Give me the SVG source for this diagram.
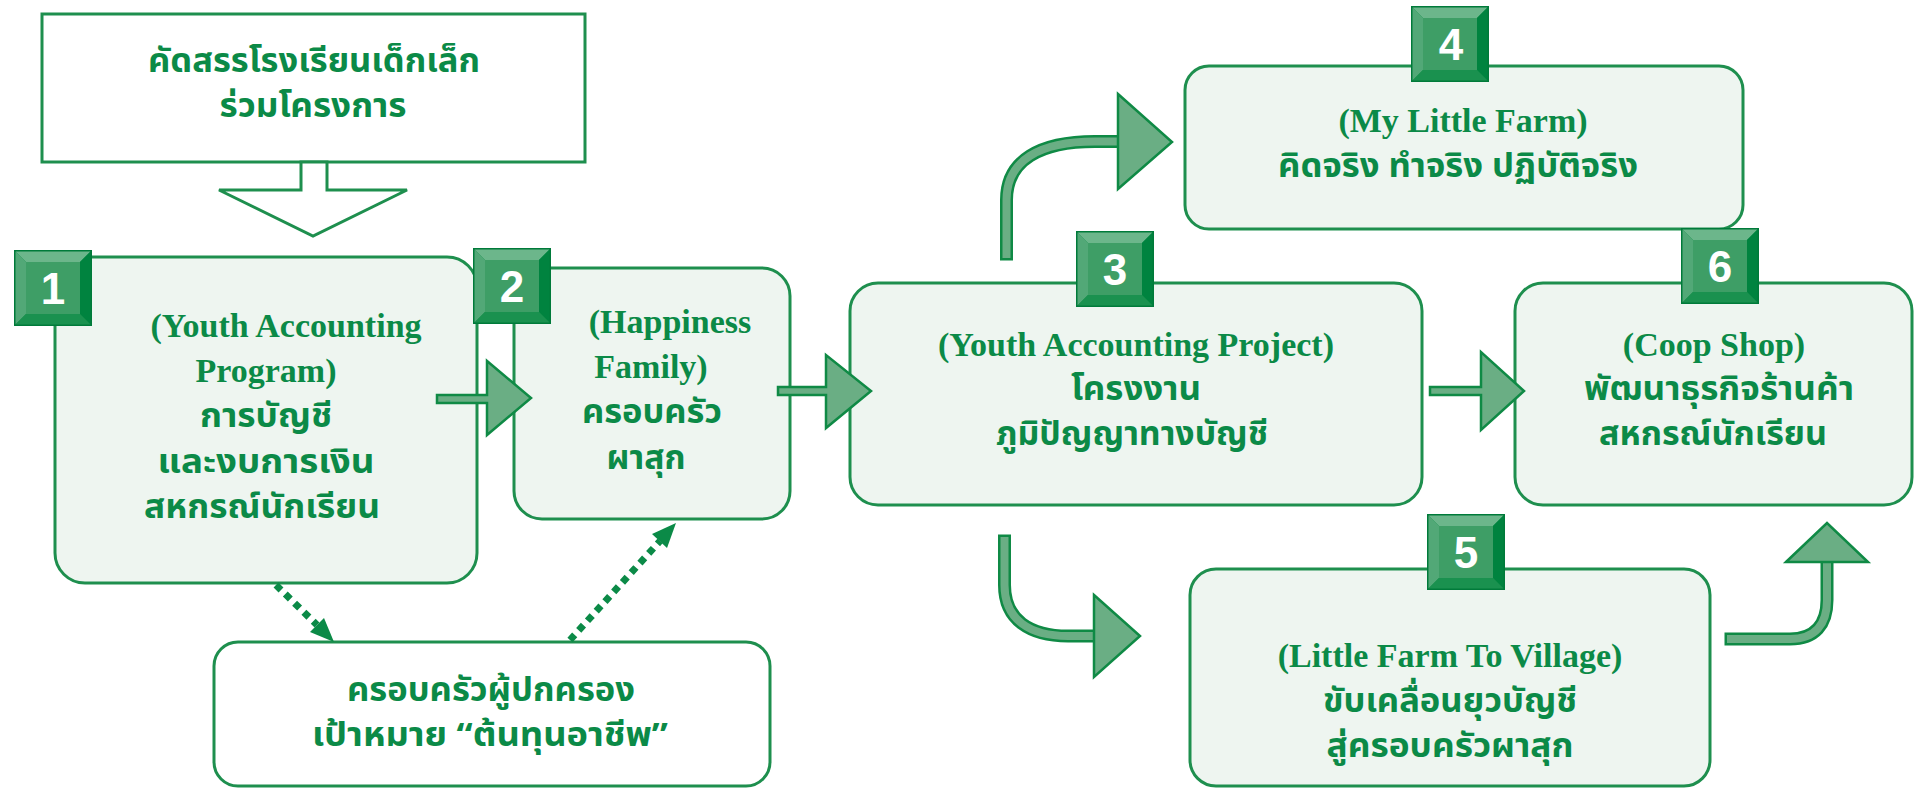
<svg xmlns="http://www.w3.org/2000/svg" xmlns:xlink="http://www.w3.org/1999/xlink" width="1918" height="788" viewBox="0 0 1918 788">
<style>
.box{fill:#eef5f0;stroke:#1e8f4e;stroke-width:3}
.wbox{fill:#ffffff;stroke:#1e8f4e;stroke-width:3}
.en{font-family:"Liberation Serif","Times New Roman",serif;font-weight:bold;font-size:34px;fill:#0b8a47;text-anchor:middle}
.th{font-family:"Noto Sans Thai","Noto Sans Thai Looped","Loma","Garuda","Tlwg Typo","Noto Sans","DejaVu Sans",sans-serif;font-weight:bold;font-size:33px;fill:#0b8a47;text-anchor:middle}
.num{font-family:"Liberation Sans",Arial,sans-serif;font-weight:bold;font-size:44px;fill:#ffffff;text-anchor:middle}
.blk{fill:#6aae84;stroke:#0f8a45;stroke-width:2.5;stroke-linejoin:miter}
.shaftO{fill:none;stroke:#0f8a45;stroke-width:13}
.shaftI{fill:none;stroke:#6aae84;stroke-width:8}
.dot{fill:none;stroke:#0b8a47;stroke-width:7;stroke-dasharray:7 6}
.dhead{fill:#0b8a47}
</style>
<defs>
<g id="badge">
<rect x="0" y="0" width="78" height="76" fill="#0a8a45"/>
<polygon points="0,0 78,0 66,12 12,12" fill="#6cb68b"/>
<polygon points="0,0 12,12 12,64 0,76" fill="#52a877"/>
<polygon points="78,0 78,76 66,64 66,12" fill="#00833f"/>
<polygon points="0,76 12,64 66,64 78,76" fill="#1a914f"/>
<rect x="12" y="12" width="54" height="52" fill="#3e9e66"/>
<rect x="0.75" y="0.75" width="76.5" height="74.5" fill="none" stroke="#007a3a" stroke-width="1.5"/>
</g>
</defs>
<rect x="0" y="0" width="1918" height="788" fill="#ffffff"/>

<g id="node-start">
<rect class="wbox" x="42" y="14" width="543" height="148"/>
<polygon class="wbox" points="301,162 301,190 219,190 313,236 407,190 327,190 327,162"/>
<text class="th" x="314" y="72" textLength="332" lengthAdjust="spacingAndGlyphs">คัดสรรโรงเรียนเด็กเล็ก</text>
<text class="th" x="313" y="117" textLength="187" lengthAdjust="spacingAndGlyphs">ร่วมโครงการ</text>
</g>

<g id="node-1">
<rect class="box" x="55" y="257" width="422" height="326" rx="30"/>
<text class="en" x="286" y="337">(Youth Accounting</text>
<text class="en" x="266" y="382">Program)</text>
<text class="th" x="266" y="427" textLength="132" lengthAdjust="spacingAndGlyphs">การบัญชี</text>
<text class="th" x="266" y="473" textLength="217" lengthAdjust="spacingAndGlyphs">และงบการเงิน</text>
<text class="th" x="262" y="518" textLength="236" lengthAdjust="spacingAndGlyphs">สหกรณ์นักเรียน</text>
<use xlink:href="#badge" x="14" y="250"/>
<text class="num" x="53" y="304">1</text>
</g>

<g id="node-2">
<rect class="box" x="514" y="268" width="276" height="251" rx="28"/>
<text class="en" x="670" y="333">(Happiness</text>
<text class="en" x="651" y="378">Family)</text>
<text class="th" x="652" y="423" textLength="140" lengthAdjust="spacingAndGlyphs">ครอบครัว</text>
<text class="th" x="646" y="469" textLength="79" lengthAdjust="spacingAndGlyphs">ผาสุก</text>
<use xlink:href="#badge" x="473" y="248"/>
<text class="num" x="512" y="302">2</text>
</g>

<g id="node-3">
<rect class="box" x="850" y="283" width="572" height="222" rx="28"/>
<text class="en" x="1136" y="356">(Youth Accounting Project)</text>
<text class="th" x="1136" y="400" textLength="130" lengthAdjust="spacingAndGlyphs">โครงงาน</text>
<text class="th" x="1132" y="445" textLength="272" lengthAdjust="spacingAndGlyphs">ภูมิปัญญาทางบัญชี</text>
<use xlink:href="#badge" x="1076" y="231"/>
<text class="num" x="1115" y="285">3</text>
</g>

<g id="node-4">
<rect class="box" x="1185" y="66" width="558" height="163" rx="24"/>
<text class="en" x="1463" y="132">(My Little Farm)</text>
<text class="th" x="1458" y="177" textLength="360" lengthAdjust="spacingAndGlyphs">คิดจริง ทำจริง ปฏิบัติจริง</text>
<use xlink:href="#badge" x="1411" y="6"/>
<text class="num" x="1451" y="60">4</text>
</g>

<g id="node-6">
<rect class="box" x="1515" y="283" width="397" height="222" rx="28"/>
<text class="en" x="1714" y="356">(Coop Shop)</text>
<text class="th" x="1719" y="400" textLength="270" lengthAdjust="spacingAndGlyphs">พัฒนาธุรกิจร้านค้า</text>
<text class="th" x="1713" y="445" textLength="228" lengthAdjust="spacingAndGlyphs">สหกรณ์นักเรียน</text>
<use xlink:href="#badge" x="1681" y="228"/>
<text class="num" x="1720" y="282">6</text>
</g>

<g id="node-5">
<rect class="box" x="1190" y="569" width="520" height="217" rx="26"/>
<text class="en" x="1450" y="667">(Little Farm To Village)</text>
<text class="th" x="1450" y="712" textLength="254" lengthAdjust="spacingAndGlyphs">ขับเคลื่อนยุวบัญชี</text>
<text class="th" x="1450" y="757" textLength="247" lengthAdjust="spacingAndGlyphs">สู่ครอบครัวผาสุก</text>
<use xlink:href="#badge" x="1427" y="514"/>
<text class="num" x="1466" y="568">5</text>
</g>

<g id="node-parents">
<rect class="wbox" x="214" y="642" width="556" height="144" rx="24"/>
<text class="th" x="491" y="701" textLength="288" lengthAdjust="spacingAndGlyphs">ครอบครัวผู้ปกครอง</text>
<text class="th" x="490" y="746" textLength="356" lengthAdjust="spacingAndGlyphs">เป้าหมาย “ต้นทุนอาชีพ”</text>
</g>

<g id="connectors">
<polygon class="blk" points="437,395 487,395 487,361 531,398 487,435 487,403 437,403"/>
<polygon class="blk" points="778,387 826,387 826,355 871,391 826,428 826,395 778,395"/>
<polygon class="blk" points="1430,387 1481,387 1481,352 1524,391 1481,430 1481,395 1430,395"/>

<path class="shaftO" d="M1006.5,260.5 L1006.5,200 C1006.5,160 1040,141.5 1095,141.5 L1122,141.5"/>
<path class="shaftI" d="M1006.5,258 L1006.5,200 C1006.5,160 1040,141.5 1095,141.5 L1124,141.5"/>
<polygon class="blk" points="1118,94 1172,142 1118,189"/>

<path class="shaftO" d="M1004.5,534.5 L1004.5,585 C1004.5,620 1030,636 1068,636 L1096,636"/>
<path class="shaftI" d="M1004.5,537 L1004.5,585 C1004.5,620 1030,636 1068,636 L1098,636"/>
<polygon class="blk" points="1094,595 1140,636 1094,677"/>

<path class="shaftO" d="M1724.5,639 L1790,639 C1815,639 1827,625 1827,600 L1827,560"/>
<path class="shaftI" d="M1727,639 L1790,639 C1815,639 1827,625 1827,600 L1827,558"/>
<polygon class="blk" points="1786,562 1827,523 1868,562"/>

<line class="dot" x1="276" y1="585" x2="317" y2="625"/>
<polygon class="dhead" points="334,642 310,632 324,618"/>
<line class="dot" x1="570" y1="640" x2="660" y2="541"/>
<polygon class="dhead" points="676,523 667,548 652,534"/>
</g>
</svg>
